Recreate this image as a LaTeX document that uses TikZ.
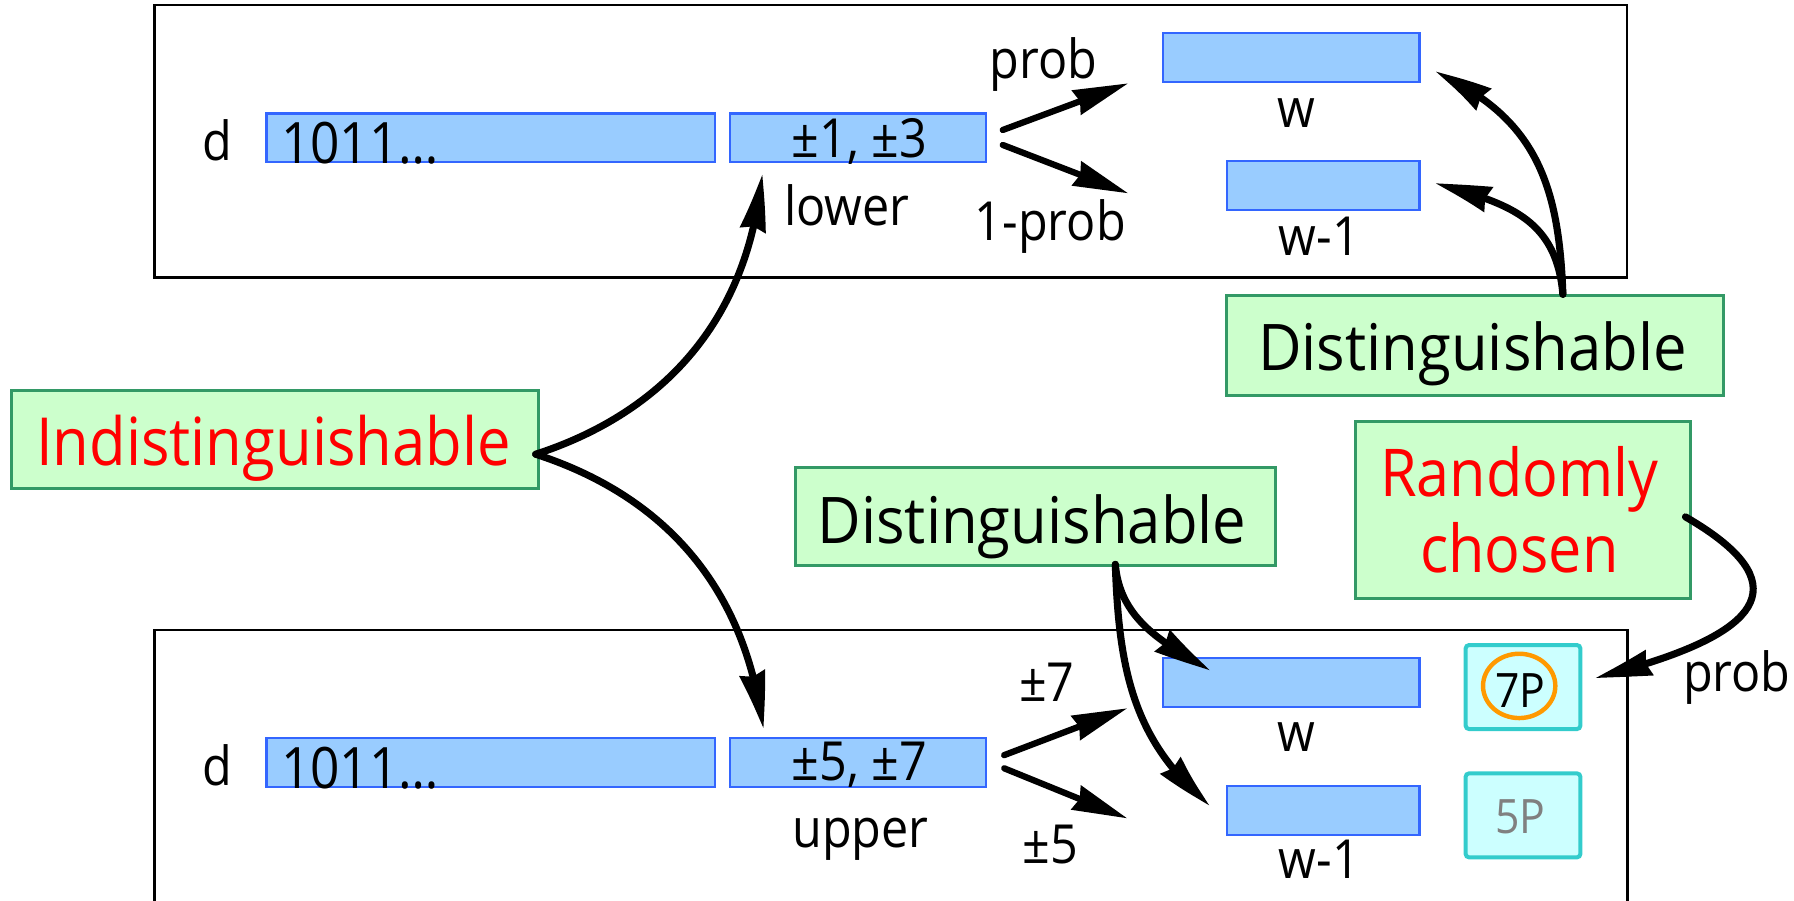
\documentclass[tikz,border=0pt]{standalone}
\usepackage{fontspec}
\setmainfont[FakeStretch=0.9]{Open Sans}
\newfontfamily\dfont[FakeStretch=0.93]{Open Sans}
\usetikzlibrary{arrows.meta,bending}
\definecolor{barfill}{HTML}{99CCFF}
\definecolor{barline}{HTML}{3366FF}
\definecolor{gfill}{HTML}{CCFFCC}
\definecolor{gline}{HTML}{339966}
\definecolor{cfill}{HTML}{CCFFFF}
\definecolor{cline}{HTML}{33CCCC}
\definecolor{orng}{HTML}{FF9900}
\definecolor{txtred}{HTML}{FF0000}
\definecolor{gray5}{HTML}{808080}
\newcommand{\fsml}{\fontsize{13.4}{15}\selectfont}
\newcommand{\fnum}{\fontsize{14.2}{16}\selectfont}
\newcommand{\fpee}{\fontsize{11.8}{13}\selectfont}
\newcommand{\fdist}{\dfont\fontsize{16}{19}\selectfont}
\newcommand{\find}{\fontsize{16.5}{19}\selectfont}
\newcommand{\frnd}{\fontsize{16.4}{19}\selectfont}
\tikzset{
  bar/.style={draw=barline, fill=barfill, line width=0.55pt, inner sep=0pt, minimum height=4.27mm},
  gbox/.style={draw=gline, fill=gfill, line width=0.75pt, inner sep=0pt},
  pbox/.style={draw=cline, fill=cfill, line width=1pt, rounded corners=0.3mm, inner sep=0pt, minimum width=10.03mm, minimum height=7.34mm},
  frame/.style={draw=black, line width=0.65pt},
  lbl/.style={font=\fsml, inner sep=0pt, anchor=base},
  conn/.style={line width=0.62mm, line cap=round, -{Stealth[length=5mm,width=2.2mm,inset=0.3mm,bend]}},
  sconn/.style={line width=0.55mm, line cap=round, -{Stealth[length=4.8mm,width=2.2mm,inset=0.3mm]}},
}
\begin{document}
\begin{tikzpicture}[x=0.1mm,y=-0.1mm]
\useasboundingbox (0,0) rectangle (1568,787);
% frames
\draw[frame] (135,4.4) rectangle (1422,242.7);
\draw[frame] (135,787.5) -- (135,550.6) -- (1422.6,550.6) -- (1422.6,787.5);

% top row
\node[bar, minimum width=39.19mm] (b1t) at (428.9,120.5) {};
\node[bar, minimum width=22.41mm] (barlowt) at (749.85,120.5) {};
\node[bar, minimum width=22.4mm] (wt) at (1128.6,50.35) {};
\node[bar, minimum width=16.84mm] (w1t) at (1156.4,162.25) {};
\node[lbl] (dt) at (190,140.5) {d};
\node[lbl, font=\fnum, anchor=base west] (nt) at (245,143) {1011…};
\node[lbl] (lt) at (751,137.6) {±1, ±3};
\node[lbl] (lowt) at (740,197) {lower};
\node[lbl] (pt) at (912,68.5) {prob};
\node[lbl] (qt) at (918,210) {1-prob};
\node[lbl] (wlt) at (1133,111.6) {w};
\node[lbl] (w1lt) at (1153,223) {w-1};

% bottom row
\node[bar, minimum width=39.19mm] (b1b) at (428.9,666.5) {};
\node[bar, minimum width=22.41mm] (barupb) at (749.85,666.5) {};
\node[bar, minimum width=22.4mm] (wb) at (1128.6,596.35) {};
\node[bar, minimum width=16.84mm] (w1b) at (1156.4,708.25) {};
\node[lbl] (db) at (190,686.5) {d};
\node[lbl, font=\fnum, anchor=base west] (nb) at (245,689) {1011…};
\node[lbl] (lb) at (751,682.5) {±5, ±7};
\node[lbl] (upb) at (752,741) {upper};
\node[lbl] (p7) at (915,613) {±7};
\node[lbl] (p5) at (918,754.6) {±5};
\node[lbl] (wlb) at (1133,657) {w};
\node[lbl] (w1lb) at (1153,768) {w-1};

% 7P / 5P
\node[pbox] (c7) at (1331.15,600.5) {};
\node[pbox] (c5) at (1331.15,712.65) {};
\draw[orng, line width=1.1pt] (1327.8,599.5) ellipse [x radius=3.16mm, y radius=2.81mm];
\node[lbl, font=\fpee] (t7) at (1329,618.2) {7P};
\node[lbl, font=\fpee, text=gray5] (t5) at (1329,728.4) {5P};
\node[lbl] (prr) at (1518,604.5) {prob};

% green boxes
\node[gbox, minimum width=43.4mm, minimum height=8.75mm] (dtr) at (1289,302.3) {};
\node[lbl, font=\fdist] at (1287,323.4) {Distinguishable};
\node[gbox, minimum width=46.1mm, minimum height=8.6mm] (ind) at (240.4,384) {};
\node[lbl, font=\find, text=txtred] at (239,407) {Indistinguishable};
\node[gbox, minimum width=41.96mm, minimum height=8.57mm] (dmid) at (904.8,451.8) {};
\node[lbl, font=\fdist] at (902,475) {Distinguishable};
\node[gbox, minimum width=29.28mm, minimum height=15.45mm] (rnd) at (1331.4,445.75) {};
\node[lbl, font=\frnd, text=txtred] at (1328,434) {Randomly};
\node[lbl, font=\frnd, text=txtred] at (1328,500.5) {chosen};

% free ends of the straight arrows
\coordinate (tp1) at (986.2,72.8);
\coordinate (tp2) at (986.2,169);
\coordinate (bp1) at (985.4,619);
\coordinate (bp2) at (985.4,715.3);

% straight arrows
\draw[sconn] ([xshift=1.36mm,yshift=0.69mm]barlowt.east) -- (tp1);
\draw[sconn] ([xshift=1.36mm,yshift=-0.62mm]barlowt.east) -- (tp2);
\draw[sconn] ([xshift=1.48mm,yshift=0.65mm]barupb.east) -- (bp1);
\draw[sconn] ([xshift=1.48mm,yshift=-0.5mm]barupb.east) -- (bp2);

% curved arrows
\draw[conn] ([xshift=-0.4mm,yshift=-1.3mm]ind.east) to[out=18,in=-95] ([xshift=2.9mm,yshift=-0.9mm]barlowt.south west);
\draw[conn] ([xshift=-0.4mm,yshift=-1.3mm]ind.east) to[out=-18,in=97] ([xshift=3.0mm,yshift=0.7mm]barupb.north west);
\draw[conn] ([xshift=7.7mm]dtr.north) to[out=92,in=-24,looseness=1.1] ([xshift=1.25mm,yshift=-1.26mm]wt.east);
\draw[conn] ([xshift=7.7mm]dtr.north) to[out=95,in=-15,looseness=1.15] ([xshift=1.25mm,yshift=0.2mm]w1t.east);
\draw[conn] ([xshift=7.0mm,yshift=0.27mm]dmid.south) to[out=-85,in=150] ([xshift=4.24mm,yshift=1.04mm]wb.west);
\draw[conn] ([xshift=7.0mm,yshift=0.27mm]dmid.south) to[out=-88,in=141] ([xshift=-1.32mm,yshift=0.44mm]w1b.west);
\draw[conn] ([xshift=-0.6mm,yshift=-0.6mm]rnd.east) to[out=-30,in=14,looseness=2.1] ([xshift=1.1mm,yshift=0.8mm]c7.east);
\end{tikzpicture}
\end{document}
